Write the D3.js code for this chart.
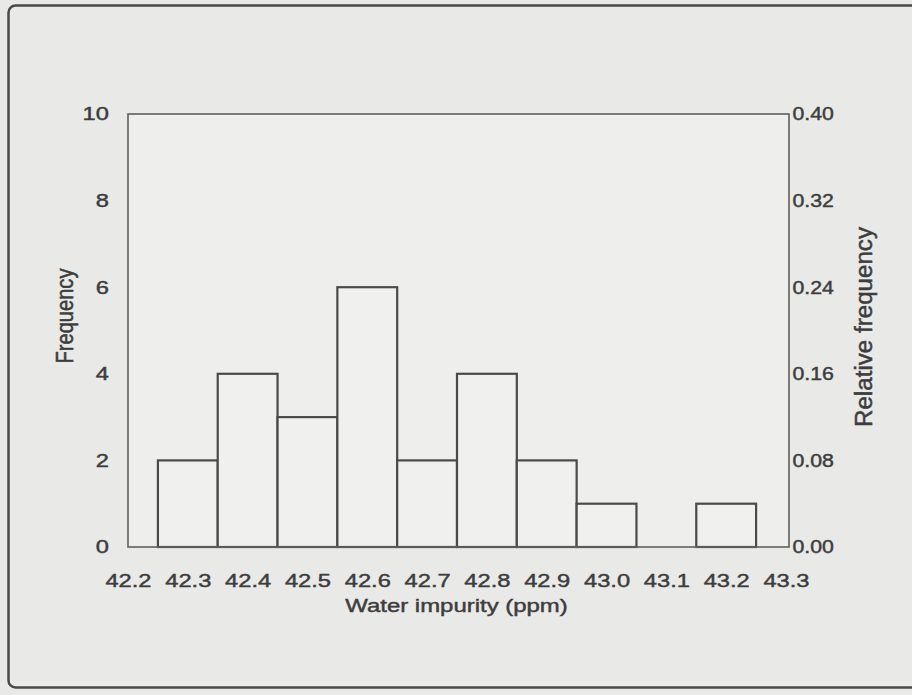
<!DOCTYPE html>
<html>
<head>
<meta charset="utf-8">
<script src="https://cdn.jsdelivr.net/npm/d3@7"></script>
<style>
  html, body { margin: 0; padding: 0; background: #e9e9e8; }
  svg { display: block; }
  text { font-family: "Liberation Sans", Arial, Helvetica, sans-serif; fill: #3d3d3d; stroke: #3d3d3d; stroke-width: 0.45px; }
</style>
</head>
<body>
<svg id="chart" width="912" height="695"></svg>
<script>
// ---- data ----
const binCenters = [42.3, 42.4, 42.5, 42.6, 42.7, 42.8, 42.9, 43.0, 43.1, 43.2];
const frequencies = [2, 4, 3, 6, 2, 4, 2, 1, 0, 1];
const xTickValues = [42.2, 42.3, 42.4, 42.5, 42.6, 42.7, 42.8, 42.9, 43.0, 43.1, 43.2, 43.3];
const yTickValues = [0, 2, 4, 6, 8, 10];
const relTickValues = [0.00, 0.08, 0.16, 0.24, 0.32, 0.40];
const binWidth = 0.1;
const xTitle = "Water impurity (ppm)";
const yTitle = "Frequency";
const y2Title = "Relative frequency";

// ---- layout ----
const W = 912, H = 695;
const plot = { left: 128, right: 789, top: 114, bottom: 547 };
const svg = d3.select("#chart");
const sx = 1.28; // horizontal stretch of scanned lettering

// outer frame
svg.append("rect")
  .attr("x", 8.5).attr("y", 5.5)
  .attr("width", W + 20).attr("height", 682)
  .attr("rx", 7).attr("ry", 7)
  .attr("fill", "#e9e9e8")
  .attr("stroke", "#4a4a4a").attr("stroke-width", 2.5);

const x = d3.scaleLinear().domain([42.2, 43.3]).range([plot.left, plot.right - 3]);
const y = d3.scaleLinear().domain([0, 10]).range([plot.bottom, plot.top]);
const y2 = d3.scaleLinear().domain([0, 0.4]).range([plot.bottom, plot.top]);

// plot area background
svg.append("rect")
  .attr("x", plot.left).attr("y", plot.top)
  .attr("width", plot.right - plot.left).attr("height", plot.bottom - plot.top)
  .attr("fill", "#eeeeed");

// bars
svg.append("g").selectAll("rect")
  .data(binCenters.map((c, i) => ({ c, f: frequencies[i] })).filter(d => d.f > 0))
  .join("rect")
  .attr("x", d => x(d.c - binWidth / 2))
  .attr("width", d => x(d.c + binWidth / 2) - x(d.c - binWidth / 2))
  .attr("y", d => y(d.f))
  .attr("height", d => y(0) - y(d.f))
  .attr("fill", "#f0f0ef")
  .attr("stroke", "#4a4a4a")
  .attr("stroke-width", 2.2);

// frame
svg.append("rect")
  .attr("x", plot.left).attr("y", plot.top)
  .attr("width", plot.right - plot.left).attr("height", plot.bottom - plot.top)
  .attr("fill", "none")
  .attr("stroke", "#5f5f5f").attr("stroke-width", 1.6);

// axes
const gx = svg.append("g")
  .attr("transform", `translate(0,${plot.bottom})`)
  .call(d3.axisBottom(x).tickValues(xTickValues).tickFormat(d3.format(".1f")).tickSize(0).tickPadding(27));
const gy = svg.append("g")
  .attr("transform", `translate(${plot.left},0)`)
  .call(d3.axisLeft(y).tickValues(yTickValues).tickFormat(d3.format("d")).tickSize(0).tickPadding(15));
const gy2 = svg.append("g")
  .attr("transform", `translate(${plot.right},0)`)
  .call(d3.axisRight(y2).tickValues(relTickValues).tickFormat(d3.format(".2f")).tickSize(0).tickPadding(3));

[gx, gy, gy2].forEach(g => {
  g.select(".domain").remove();
  g.selectAll("text")
    .attr("fill", "#3d3d3d")
    .style("font-size", "18.5px")
    .attr("transform", `scale(${sx},1)`);
});
gy2.selectAll("text").attr("transform", "scale(1.15,1)");

// axis titles
svg.append("text")
  .attr("transform", `translate(${(plot.left + plot.right) / 2 - 2},612) scale(1.26,1)`)
  .attr("text-anchor", "middle")
  .style("font-size", "19px")
  .text(xTitle);

svg.append("text")
  .attr("transform", `translate(73,316) rotate(-90) scale(1.03,1.2)`)
  .attr("text-anchor", "middle")
  .style("font-size", "19.5px")
  .text(yTitle);

svg.append("text")
  .attr("transform", `translate(872,327) rotate(-90) scale(1.15,1.15)`)
  .attr("text-anchor", "middle")
  .style("font-size", "21px")
  .text(y2Title);
</script>
</body>
</html>
